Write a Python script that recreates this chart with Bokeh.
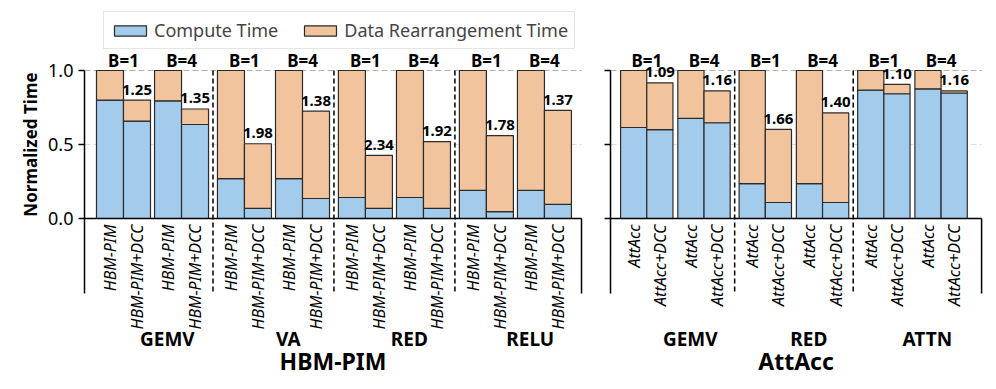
import math
from bokeh.plotting import figure
from bokeh.layouts import row
from bokeh.models import (ColumnDataSource, Range1d, FixedTicker, Legend, LegendItem,
                          NumeralTickFormatter)
from bokeh.core.properties import value
from bokeh.embed import file_html
from bokeh.resources import INLINE

# ---------------- data ----------------
hbm_groups = ["GEMV", "VA", "RED", "RELU"]
att_groups = ["GEMV", "RED", "ATTN"]
batch_labels = ["B=1", "B=4"]
hbm_systems = ["HBM-PIM", "HBM-PIM+DCC"]
att_systems = ["AttAcc", "AttAcc+DCC"]
platforms = ["HBM-PIM", "AttAcc"]
legend_labels = ["Compute Time", "Data Rearrangement Time"]
y_ticks = [0.0, 0.5, 1.0]
y_title = "Normalized Time"

# order: per group -> B=1, B=4
hbm_base_compute = [0.80, 0.795, 0.27, 0.27, 0.142, 0.142, 0.19, 0.19]
hbm_base_total = [1.0, 1.0, 1.0, 1.0, 1.0, 1.0, 1.0, 1.0]
hbm_dcc_compute = [0.658, 0.635, 0.068, 0.135, 0.068, 0.068, 0.047, 0.095]
hbm_dcc_total = [0.80, 0.74, 0.505, 0.725, 0.427, 0.52, 0.56, 0.73]
hbm_speedup = ["1.25", "1.35", "1.98", "1.38", "2.34", "1.92", "1.78", "1.37"]

att_base_compute = [0.615, 0.676, 0.235, 0.235, 0.867, 0.876]
att_base_total = [1.0, 1.0, 1.0, 1.0, 1.0, 1.0]
att_dcc_compute = [0.60, 0.647, 0.108, 0.108, 0.843, 0.848]
att_dcc_total = [0.917, 0.862, 0.602, 0.714, 0.906, 0.862]
att_speedup = ["1.09", "1.16", "1.66", "1.40", "1.10", "1.16"]

# ---------------- layout constants (data units, 1 x unit ~ 27px) ----------------
PXY = 148.0   # px per y unit
Y0PX = 218.0  # page y of value 0
panels = [
    dict(origin=0.0, G=4.48, P=2.15, W=1.0, left=-0.444, right=17.963,
         groups=hbm_groups, systems=hbm_systems,
         bc=hbm_base_compute, bt=hbm_base_total, dc=hbm_dcc_compute, dt=hbm_dcc_total,
         sp=hbm_speedup, name=platforms[0]),
    dict(origin=19.41, G=4.39, P=2.12, W=0.97, left=19.037, right=32.78,
         groups=att_groups, systems=att_systems,
         bc=att_base_compute, bt=att_base_total, dc=att_dcc_compute, dt=att_dcc_total,
         sp=att_speedup, name=platforms[1]),
]

bar = dict(x=[], w=[], c=[], t=[])
ticklab = dict(x=[], text=[])
spd = dict(x=[], y=[], text=[])
blab = dict(x=[], text=[])
glab = dict(x=[], text=[])
plab = dict(x=[], text=[])
seps = []

for pn in panels:
    o, G, P, W = pn["origin"], pn["G"], pn["P"], pn["W"]
    ext = P + 2 * W
    for gi, g in enumerate(pn["groups"]):
        for bi in range(2):
            i = gi * 2 + bi
            pl = o + gi * G + bi * P
            xb, xd = pl + W / 2, pl + 1.5 * W
            bar["x"] += [xb, xd]
            bar["w"] += [W, W]
            bar["c"] += [pn["bc"][i], pn["dc"][i]]
            bar["t"] += [pn["bt"][i], pn["dt"][i]]
            ticklab["x"] += [xb, xd]
            ticklab["text"] += pn["systems"]
            spd["x"].append(xd)
            spd["y"].append(pn["dt"][i] + 10.5 / PXY)
            spd["text"].append(pn["sp"][i])
            blab["x"].append(pl + W)
            blab["text"].append(batch_labels[bi])
        glab["x"].append(o + gi * G + ext / 2 + 0.55)
        glab["text"].append(g)
        if gi < len(pn["groups"]) - 1:
            seps.append(o + gi * G + (ext + G) / 2)
    plab["x"].append((pn["left"] + pn["right"]) / 2)
    plab["text"].append(pn["name"])

FONT = "Noto Sans"
C_BLUE = "#a3cbeb"
C_ORANGE = "#f1c49d"
EDGE = "#2b2b2b"

TOP_PX, BOT_PX = 8.0, 388.0
LABEL_W = 44
yr = Range1d((Y0PX - BOT_PX) / PXY, (Y0PX - TOP_PX) / PXY)

p = figure(width=990 - LABEL_W, height=388,
           x_range=Range1d(-0.444, 33.11), y_range=yr,
           x_axis_type=None, output_backend="svg", toolbar_location=None,
           min_border_left=84 - LABEL_W, min_border_right=0, min_border_top=8,
           min_border_bottom=0)
p.outline_line_color = None
p.ygrid.visible = False

# grid lines (per panel)
y_bot = -0.507
for pn in panels:
    p.segment(x0=[pn["left"]], y0=[1.0], x1=[pn["right"]], y1=[1.0],
              line_color="#b0b0b0", line_width=1, line_dash="6 3")
    p.segment(x0=[pn["left"]], y0=[0.5], x1=[pn["right"]], y1=[0.5],
              line_color="#dddddd", line_width=1, line_dash="6 3")

src = ColumnDataSource(bar)
rc = p.vbar(x="x", width="w", bottom=0, top="c", source=src,
            fill_color=C_BLUE, line_color=EDGE, line_width=1.2)
rr = p.vbar(x="x", width="w", bottom="c", top="t", source=src,
            fill_color=C_ORANGE, line_color=EDGE, line_width=1.2)

# axis lines / frames
L, R = panels
p.segment(x0=[L["left"], R["left"]], y0=[0, 0], x1=[L["right"], R["right"]], y1=[0, 0],
          line_color="black", line_width=1.5)
p.segment(x0=[L["right"], R["right"], R["left"]], y0=[y_bot, y_bot, y_bot],
          x1=[L["right"], R["right"], R["left"]], y1=[0, 0, 1.0],
          line_color="black", line_width=1.5)
p.segment(x0=[R["left"] - 6 / 27] * 3, y0=y_ticks, x1=[R["left"]] * 3, y1=y_ticks,
          line_color="black", line_width=1.5)
p.segment(x0=seps, y0=[1.0] * len(seps), x1=seps, y1=[y_bot] * len(seps),
          line_color="black", line_width=1.5, line_dash="5 3")

# y axis (left panel)
ax = p.yaxis[0]
ax.bounds = (y_bot, 1.0)
ax.ticker = FixedTicker(ticks=y_ticks)
ax.formatter = NumeralTickFormatter(format="0.0")
ax.minor_tick_line_color = None
ax.axis_line_width = 1.5
ax.major_tick_line_width = 1.5
ax.major_tick_in = 0
ax.major_tick_out = 6
ax.major_label_standoff = 5
ax.major_label_text_font = FONT
ax.major_label_text_font_size = "18px"
ax.major_label_text_color = "black"

# texts
p.text(x="x", y=-6 / PXY, text="text", source=ColumnDataSource(ticklab), angle=math.pi / 2,
       text_align="right", text_baseline="middle", text_font=value(FONT),
       text_font_style="italic", text_font_size="16px", text_color="black")
p.text(x="x", y="y", text="text", source=ColumnDataSource(spd),
       text_align="center", text_baseline="middle", text_font=value(FONT),
       text_font_style="bold", text_font_size="15px", text_color="black")
p.text(x="x", y=(Y0PX - 60) / PXY, text="text", source=ColumnDataSource(blab),
       text_align="center", text_baseline="middle", text_font=value(FONT),
       text_font_style="bold", text_font_size="17px", text_color="black")
p.text(x="x", y=(Y0PX - 338) / PXY, text="text", source=ColumnDataSource(glab),
       text_align="center", text_baseline="middle", text_font=value(FONT),
       text_font_style="bold", text_font_size="19px", text_color="black")
p.text(x="x", y=(Y0PX - 360) / PXY, text="text", source=ColumnDataSource(plab),
       text_align="center", text_baseline="middle", text_font=value(FONT),
       text_font_style="bold", text_font_size="23px", text_color="black")

legend = Legend(items=[LegendItem(label=legend_labels[0], renderers=[rc]),
                       LegendItem(label=legend_labels[1], renderers=[rr])],
                orientation="horizontal", location=(19, BOT_PX - 49))
legend.label_text_font = FONT
legend.label_text_font_size = "18px"
legend.glyph_width = 40
legend.glyph_height = 13
legend.label_standoff = 4
legend.spacing = 22
legend.padding = 6
legend.border_line_color = "#cccccc"
legend.border_line_width = 1.5
legend.background_fill_alpha = 1.0
p.add_layout(legend)

# narrow companion figure that holds the y-axis title (shares the y scale)
t = figure(width=LABEL_W, height=388, x_range=Range1d(0, LABEL_W), y_range=yr,
           x_axis_type=None, y_axis_type=None, output_backend="svg",
           toolbar_location=None, min_border_left=0, min_border_right=0,
           min_border_top=8, min_border_bottom=0)
t.outline_line_color = None
t.grid.visible = False
t.text(x=[30], y=[0.5], text=[y_title], angle=math.pi / 2,
       text_align="center", text_baseline="middle", text_font=value(FONT),
       text_font_style="bold", text_font_size="17px", text_color="black")

open("out.html", "w").write(file_html(row(t, p), INLINE))
